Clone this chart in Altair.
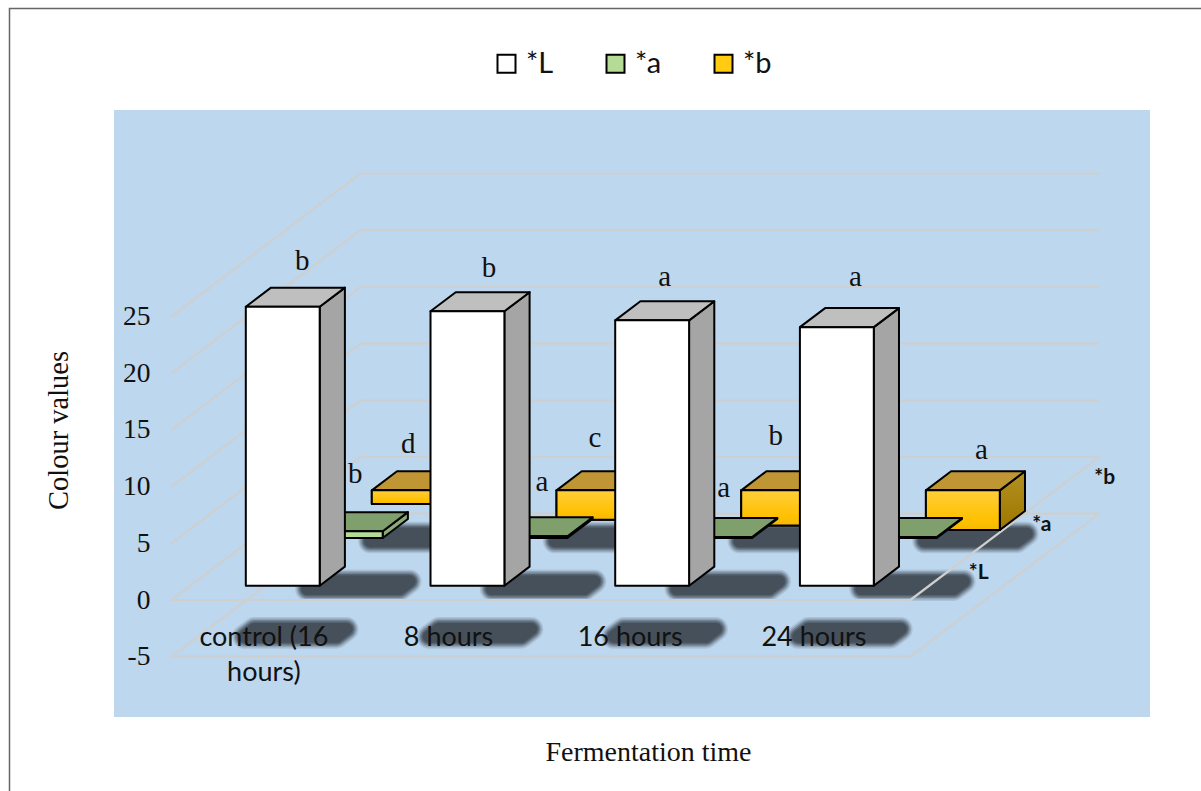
import altair as alt
import pandas as pd

# Colour measurements per fermentation time
categories = ["control (16\nhours)", "8 hours", "16 hours", "24 hours"]
series = ["*b", "*a", "*L"]            # back row first, so nearer rows paint over it
l_values = [24.6, 24.2, 23.4, 22.8]
a_values = [0.6, 0.15, 0.08, 0.08]
b_values = [-1.2, -2.6, -3.1, -3.5]
value_ticks = [-5, 0, 5, 10, 15, 20, 25]

l_letters = ["b", "b", "a", "a"]
a_letters = ["b", "a", "a", ""]
b_letters = ["d", "c", "b", "a"]

# Letter placement relative to the centre of each bar's top face, in pixels
l_letter_shift = [(7, -36), (9, -34), (0, -34), (6, -41)]
a_letter_shift = [(-3, -48), (-1, -45), (-4, -40), (0, 0)]
b_letter_shift = [(-13, -37), (-11, -43), (-15, -45), (6, -31)]
category_shift = [0, 0, -3, -4]

values_by_series = {"*L": l_values, "*a": a_values, "*b": b_values}
letters_by_series = {"*L": l_letters, "*a": a_letters, "*b": b_letters}
shift_by_series = {"*L": l_letter_shift, "*a": a_letter_shift, "*b": b_letter_shift}
row_of = {"*L": 0, "*a": 1, "*b": 2}

# Oblique projection: one category is 184.7 px wide, one value unit 11.34 px tall,
# and each series row moves the drawing right and up.
W, H = 1201, 791
PX_PER_CAT, PX_PER_VAL = 184.7, 11.34
ORIGIN_X, ORIGIN_Y = 171.5, 600.0
DEPTH_X = 63.0 / PX_PER_CAT
DEPTH_Y = 47.67 / PX_PER_VAL
FLOOR = -5
BAR_LO, BAR_HI = 0.3, 0.7


def px(cat, depth):
    return cat + depth * DEPTH_X


def py(val, depth):
    return val + depth * DEPTH_Y


x_scale = alt.Scale(domain=[-ORIGIN_X / PX_PER_CAT, (W - ORIGIN_X) / PX_PER_CAT], nice=False, zero=False)
y_scale = alt.Scale(domain=[(ORIGIN_Y - H) / PX_PER_VAL, ORIGIN_Y / PX_PER_VAL], nice=False, zero=False)
x_axis = alt.Axis(
    title="Fermentation time", labels=False, ticks=False, domain=False, grid=False, zindex=1,
    titleFont="Liberation Serif", titleFontSize=28, titleFontWeight="normal", titleColor="#111111",
    titleX=648, titleY=-31, titleAlign="center", titleBaseline="alphabetic",
)
y_axis = alt.Axis(
    title="Colour values", values=value_ticks, offset=-150, ticks=False, domain=False, grid=False, zindex=1,
    labelPadding=0, labelFont="Liberation Serif", labelFontSize=27.5, labelColor="#111111",
    labelExpr="'' + datum.value",
    titleFont="Liberation Serif", titleFontSize=28.5, titleFontWeight="normal", titleColor="#111111",
    titleX=-83, titleY=430, titleAngle=270, titleAlign="center", titleBaseline="alphabetic",
)
X = alt.X("x:Q", scale=x_scale, axis=x_axis)
Y = alt.Y("y:Q", scale=y_scale, axis=y_axis)
color_scale = alt.Scale(domain=["*L", "*a", "*b"], range=["#FFFFFF", "#B4DC96", "#FFCC11"])
legend = alt.Legend(
    title=None, orient="none", legendX=492, legendY=49, direction="horizontal", columns=3,
    symbolType="square", symbolSize=324, symbolStrokeColor="#000000", symbolStrokeWidth=2,
    symbolOpacity=1, labelFont="Lato", labelFontSize=29, labelColor="#111111", labelOffset=5,
    columnPadding=47,
)
OUTLINE = dict(stroke="#000000", strokeWidth=2, strokeJoin="round", opacity=1)


def vgrad(*stops):
    return alt.Gradient(
        gradient="linear", x1=0, x2=0, y1=0, y2=1,
        stops=[alt.GradientStop(color=c, offset=o) for c, o in stops],
    )


# Chart furniture: outer frame and blue plot panel
frame = alt.Chart(pd.DataFrame({"a": [0]})).mark_rect(
    fillOpacity=0, stroke="#666666", strokeWidth=1.5
).encode(x=alt.value(9.5), x2=alt.value(W + 20), y=alt.value(8.5), y2=alt.value(H + 20))
panel = alt.Chart(pd.DataFrame({"a": [0]})).mark_rect(color="#BDD7EE").encode(
    x=alt.value(114), x2=alt.value(1150), y=alt.value(110), y2=alt.value(717)
)

# Floor shadows of every bar, softened with stacked translucent round-cornered strokes
shadow_rows = []
for s in series:
    for i in range(len(categories)):
        for d in (0.42, 0.58):
            depth = row_of[s] + d
            shadow_rows.append({
                "id": f"{s}{i}", "x": px(i + 0.25, depth), "x2": px(i + 0.75, depth),
                "y": py(FLOOR, depth),
            })
shadow_df = pd.DataFrame(shadow_rows)
shadow_layers = [
    alt.Chart(shadow_df).mark_area(
        orient="horizontal", color="#444F59", stroke="#444F59", strokeWidth=w,
        strokeJoin="round", opacity=o,
    ).encode(x=X, x2="x2:Q", y=Y, detail="id:N")
    for w, o in [(24, 0.15), (21, 0.25), (18, 0.4), (15, 0.6), (12, 0.9)]
]

# Gridlines: side wall and back wall at each tick, plus the floor outlines
grid_rows = []
for v in value_ticks:
    path = [(0, 0), (0, 3), (4, 3)]
    if v in (-5, 0):
        path = [(0, 3), (0, 0), (4, 0), (4, 3), (0, 3)]
    for k, (c, d) in enumerate(path):
        grid_rows.append({"level": v, "k": k, "x": px(c, d), "y": py(v, d)})
grid = alt.Chart(pd.DataFrame(grid_rows)).mark_line(
    color="#CECFD0", strokeWidth=2.2, strokeJoin="round"
).encode(x=X, y=Y, detail="level:N", order="k:Q")


def side_face(s, i, lo, hi, fill):
    d0, d1 = row_of[s] + BAR_LO, row_of[s] + BAR_HI
    rows = [{"x": px(i + BAR_HI, d), "y": py(hi, d), "y2": py(lo, d)} for d in (d0, d1)]
    return alt.Chart(pd.DataFrame(rows)).mark_area(color=fill, **OUTLINE).encode(x=X, y=Y, y2="y2:Q")


def top_face(s, i, hi, fill):
    d0, d1 = row_of[s] + BAR_LO, row_of[s] + BAR_HI
    rows = [{"x": px(i + BAR_LO, d), "x2": px(i + BAR_HI, d), "y": py(hi, d)} for d in (d0, d1)]
    return alt.Chart(pd.DataFrame(rows)).mark_area(orient="horizontal", color=fill, **OUTLINE).encode(
        x=X, x2="x2:Q", y=Y
    )


def front_face(s, i, lo, hi):
    d = row_of[s] + BAR_LO
    rows = [{"x": i + c + d * DEPTH_X, "y": py(hi, d), "y2": py(lo, d), "series": s} for c in (BAR_LO, BAR_HI)]
    data = pd.DataFrame(rows)
    base = alt.Chart(data).mark_area(**OUTLINE).encode(
        x=X, y=Y, y2="y2:Q",
        color=alt.Color("series:N", scale=color_scale, legend=legend),
    )
    if s != "*b":
        return [base]
    shaded = alt.Chart(data).mark_area(
        color=vgrad(("#FFCF3A", 0), ("#FFC000", 0.75), ("#F4B800", 1)), **OUTLINE
    ).encode(x=X, y=Y, y2="y2:Q")
    return [base, shaded]


face_colors = {
    "*L": ("#A5A5A5", "#BFBFBF"),
    "*a": ("#8CA976", "#7F9F6C"),
    "*b": (vgrad(("#B4901F", 0), ("#9C7700", 1)), "#BF9633"),
}

bar_layers = []
for s in series:
    side_fill, top_fill = face_colors[s]
    for i, v in enumerate(values_by_series[s]):
        lo, hi = min(0, v), max(0, v)
        bar_layers.append(side_face(s, i, lo, hi, side_fill))
        bar_layers.append(top_face(s, i, hi, top_fill))
        bar_layers.extend(front_face(s, i, lo, hi))

# Significance letters above the bars
letter_rows = []
for s in series:
    for i, (v, t, (sx, sy)) in enumerate(zip(values_by_series[s], letters_by_series[s], shift_by_series[s])):
        if t:
            d = row_of[s] + 0.5
            letter_rows.append({
                "x": px(i + 0.5, d) + sx / PX_PER_CAT,
                "y": py(max(0, v), d) - sy / PX_PER_VAL,
                "t": t,
            })
letters = alt.Chart(pd.DataFrame(letter_rows)).mark_text(
    font="Liberation Serif", fontSize=29, color="#111111", align="center", baseline="middle"
).encode(x=X, y=Y, text="t:N")

# Category names lying on the floor
cat_rows = [
    {"x": i + 0.5 + category_shift[i] / PX_PER_CAT, "y": -4.06, "t": c}
    for i, c in enumerate(categories)
]
cat_labels = alt.Chart(pd.DataFrame(cat_rows)).mark_text(
    font="Lato", fontSize=27, color="#111111", align="center", baseline="alphabetic",
    lineBreak="\n", lineHeight=35,
).encode(x=X, y=Y, text="t:N")

# Series names along the depth axis
series_rows = [
    {"x": px(4.2, row_of[s] + 0.5), "y": py(0.27, row_of[s] + 0.5), "t": s} for s in series
]
series_labels = alt.Chart(pd.DataFrame(series_rows)).mark_text(
    font="Lato", fontSize=21, fontWeight="bold", color="#111111", align="center", baseline="middle"
).encode(x=X, y=Y, text="t:N")

chart = alt.layer(
    frame, panel, *shadow_layers, grid, *bar_layers, letters, cat_labels, series_labels
).properties(
    width=W, height=H, padding=0, autosize=alt.AutoSizeParams(type="none"), background="#FFFFFF"
).configure_view(stroke=None)

chart.save("out.html", embed_options={"renderer": "svg", "actions": False})
